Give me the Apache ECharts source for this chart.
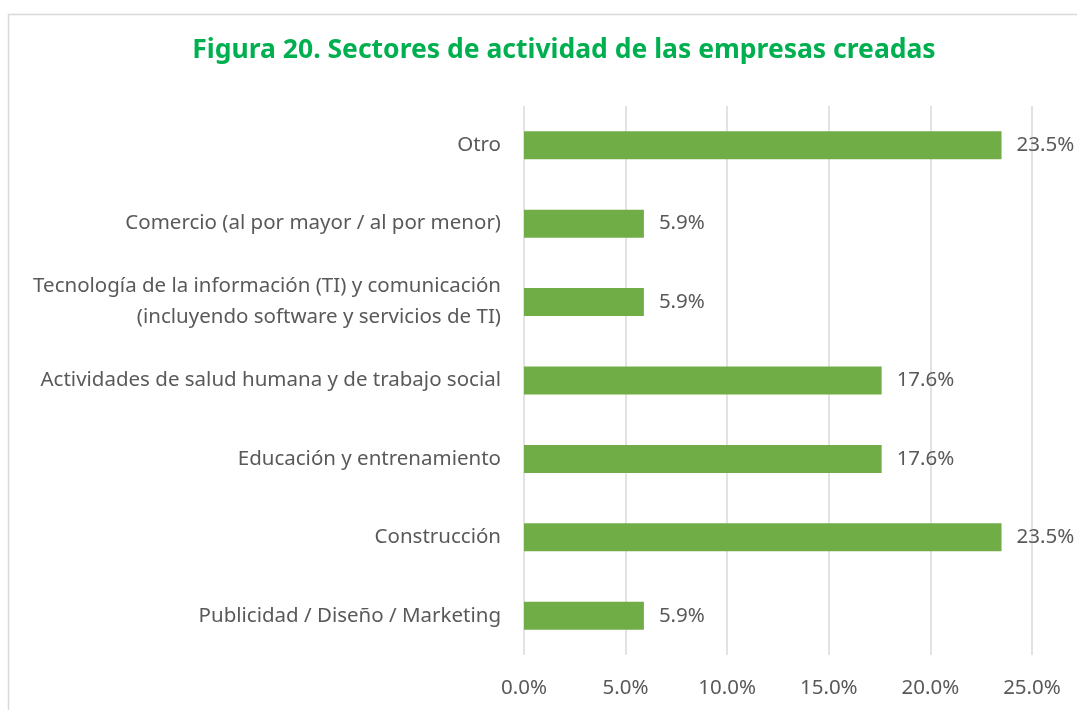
<!DOCTYPE html>
<html>
<head>
<meta charset="utf-8">
<script src="https://cdn.jsdelivr.net/npm/echarts@6/dist/echarts.min.js"></script>
<style>
  html, body { margin: 0; padding: 0; background: #fff; }
  #chart { width: 1077px; height: 710px; }
</style>
</head>
<body>
<div id="chart"></div>
<script>
	// categories listed bottom -> top, as the axis draws them
	var sectores = [
		'Publicidad / Diseño / Marketing',
		'Construcción',
		'Educación y entrenamiento',
		'Actividades de salud humana y de trabajo social',
		'Tecnología de la información (TI) y comunicación\n(incluyendo software y servicios de TI)',
		'Comercio (al por mayor / al por menor)',
		'Otro'
	];
	var porcentajes = [5.9, 23.5, 17.6, 17.6, 5.9, 5.9, 23.5];
	var tituloFigura = 'Figura 20. Sectores de actividad de las empresas creadas';

	var fuente = '"Noto Sans", "Open Sans", sans-serif';
	var chart = echarts.init(document.getElementById('chart'));

	var option = {
		backgroundColor: '#ffffff',
		animation: false,
		title: {
			text: tituloFigura,
			left: 559,
			textAlign: 'center',
			top: 32,
			textStyle: {
				color: '#00b050',
				fontSize: 26.5,
				fontWeight: 'bold',
				fontFamily: fuente
			}
		},
		graphic: [{
			type: 'rect',
			shape: { x: 8.5, y: 14.5, width: 1200, height: 800 },
			style: { fill: 'none', stroke: '#d9d9d9', lineWidth: 1.5 },
			silent: true
		}],
		grid: {
			left: 524,
			right: 45,
			top: 106,
			bottom: 55,
			containLabel: false
		},
		xAxis: {
			type: 'value',
			min: 0,
			max: 25,
			interval: 5,
			axisLine: { show: false },
			axisTick: { show: false },
			splitLine: { lineStyle: { color: '#d9d9d9', width: 1.5 } },
			axisLabel: {
				margin: 23,
				color: '#595959',
				fontSize: 20.5,
				fontFamily: fuente,
				formatter: function (v) { return v.toFixed(1) + '%'; }
			}
		},
		yAxis: {
			type: 'category',
			data: sectores,
			axisLine: { show: false },
			axisTick: { show: false },
			axisLabel: {
				margin: 23,
				color: '#595959',
				fontSize: 20.5,
				lineHeight: 31,
				align: 'right',
				fontFamily: fuente
			}
		},
		series: [{
			type: 'bar',
			data: porcentajes,
			barWidth: 28,
			itemStyle: { color: '#70ad47' },
			label: {
				show: true,
				position: 'right',
				distance: 15,
				color: '#595959',
				fontSize: 20.5,
				fontFamily: fuente,
				formatter: function (p) { return p.value.toFixed(1) + '%'; }
			}
		}]
	};
	chart.setOption(option);
</script>
</body>
</html>
